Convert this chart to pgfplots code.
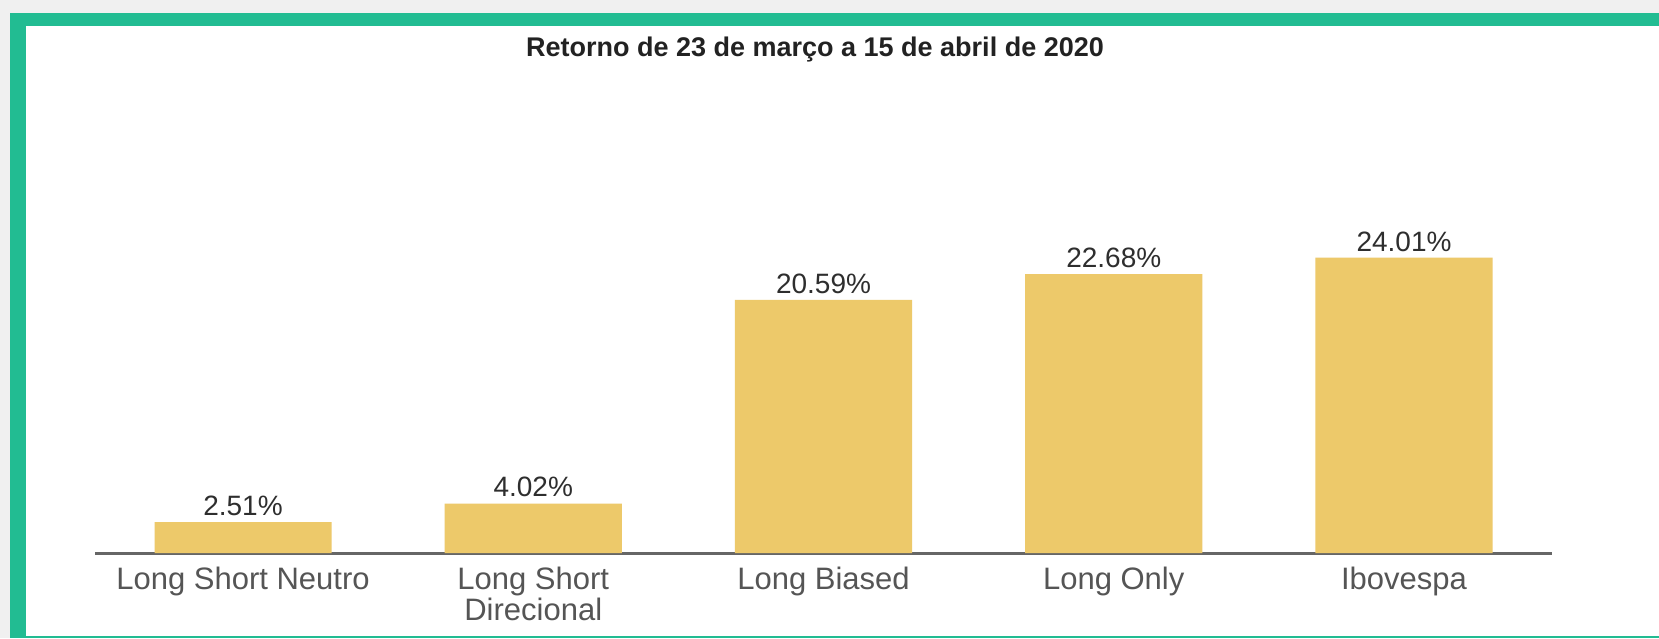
\documentclass[border=0pt]{standalone}
\usepackage{pgfplots}
\pgfplotsset{compat=1.18}
\usepackage{fontspec}
\setmainfont{Liberation Sans}
\definecolor{barc}{HTML}{EDC96A}
\definecolor{grn}{HTML}{22BC92}
\definecolor{bgc}{HTML}{F0F0F0}
\definecolor{axc}{HTML}{666666}
\definecolor{tickc}{HTML}{555555}
\definecolor{valc}{HTML}{2E2E2E}
\definecolor{titc}{HTML}{222222}
\begin{document}
\begin{tikzpicture}
\fill[bgc] (0,0) rectangle (829.5pt,-319pt);
\fill[grn] (5pt,-6.5pt) rectangle (829.5pt,-319pt);
\fill[white] (13pt,-13pt) rectangle (829.5pt,-317.8pt);
\node[font=\bfseries\fontsize{13.5}{15}\selectfont, text=titc] at (407.5pt,-25pt) {Retorno de 23 de março a 15 de abril de 2020};
\begin{axis}[
  at={(47.5pt,-276.5pt)}, anchor=south west,
  scale only axis, width=728.5pt, height=184.5pt,
  xmin=-0.51, xmax=4.51, ymin=0, ymax=30,
  ybar, bar width=0.61,
  axis x line*=bottom, axis y line=none,
  x axis line style={draw=axc, line width=1.5pt},
  xtick={0,1,2,3,4},
  xticklabels={Long Short Neutro,{Long Short\\Direcional},Long Biased,Long Only,Ibovespa},
  xticklabel style={align=center, text=tickc, font=\fontsize{15.5}{15.5}\selectfont, yshift=-3.5pt},
  major tick length=0pt,
  /pgf/number format/assume math mode=true,
  nodes near coords={\pgfmathprintnumber[fixed,fixed zerofill,precision=2,assume math mode=true]{\pgfplotspointmeta}\%},
  every node near coord/.append style={font=\fontsize{14}{15}\selectfont, text=valc, inner sep=2pt, yshift=1pt},
  clip=false,
]
\addplot[fill=barc, draw=none] coordinates {(0,2.51) (1,4.02) (2,20.59) (3,22.68) (4,24.01)};
\end{axis}
\end{tikzpicture}
\end{document}
